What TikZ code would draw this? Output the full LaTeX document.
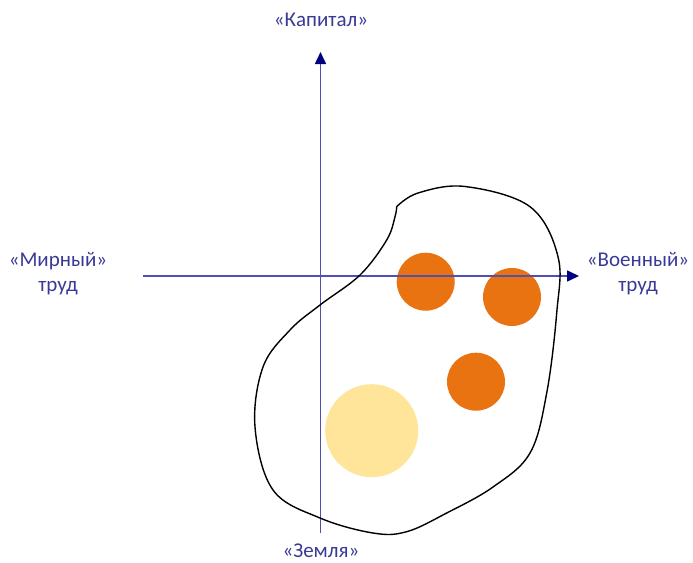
\documentclass[tikz,border=0pt]{standalone}
\usepackage{fontspec}
\setmainfont{Carlito}
\usetikzlibrary{arrows.meta}
\definecolor{labelblue}{RGB}{58,58,150}
\definecolor{axisblue}{RGB}{80,80,180}
\definecolor{axisnavy}{RGB}{0,0,128}
\definecolor{orangefill}{RGB}{233,115,17}
\definecolor{yellowfill}{RGB}{255,229,153}
\tikzset{
  lbl/.style={text=labelblue, font=\fontsize{21}{25}\selectfont, align=center, inner sep=0pt},
  axis/.style={draw=axisblue, line width=1.6pt, -{Triangle[length=12pt,width=11pt,color=axisnavy]}},
  dot/.style={circle, fill=orangefill, draw=none, minimum size=58pt, inner sep=0pt},
  bigdot/.style={circle, fill=yellowfill, draw=none, minimum size=93pt, inner sep=0pt},
  blob/.style={draw=black, line width=1.4pt}
}
\begin{document}
\begin{tikzpicture}[x=1pt,y=-1pt]
\useasboundingbox (0,0) rectangle (693,562);
% circles
\node[dot] (c1) at (425.7,281.7) {};
\node[dot] (c2) at (512,297) {};
\node[dot] (c3) at (476,381.7) {};
\node[bigdot] (c4) at (371.7,430.7) {};
% axes
\coordinate (vbot) at (320.5,533);
\coordinate (vtop) at (320.5,52);
\coordinate (hleft) at (143,276);
\coordinate (hright) at (579,276);
\draw[axis] (vbot) -- (vtop);
\draw[axis] (hleft) -- (hright);
% blob
\draw[blob] plot[smooth, tension=0.6] coordinates {
 (396.7,206.7) (418,193) (465,186.5) (530,206.7) (558,256.7) (556.7,313) (546.7,393)
 (530,453) (493,487) (446.7,513) (406.7,531.7) (373,533) (320,518)
 (273,490) (255,427) (263,367) (290,330) (320,305) (360,275)
 (386.7,240) (395,216.7) (396.7,206.7)};
% labels
\node[lbl] (cap) at (321,20) {«Капитал»};
\node[lbl] (peace) at (58,274) {«Мирный»\\труд};
\node[lbl] (war) at (638,274) {«Военный»\\труд};
\node[lbl] (land) at (321,551) {«Земля»};
\end{tikzpicture}
\end{document}
